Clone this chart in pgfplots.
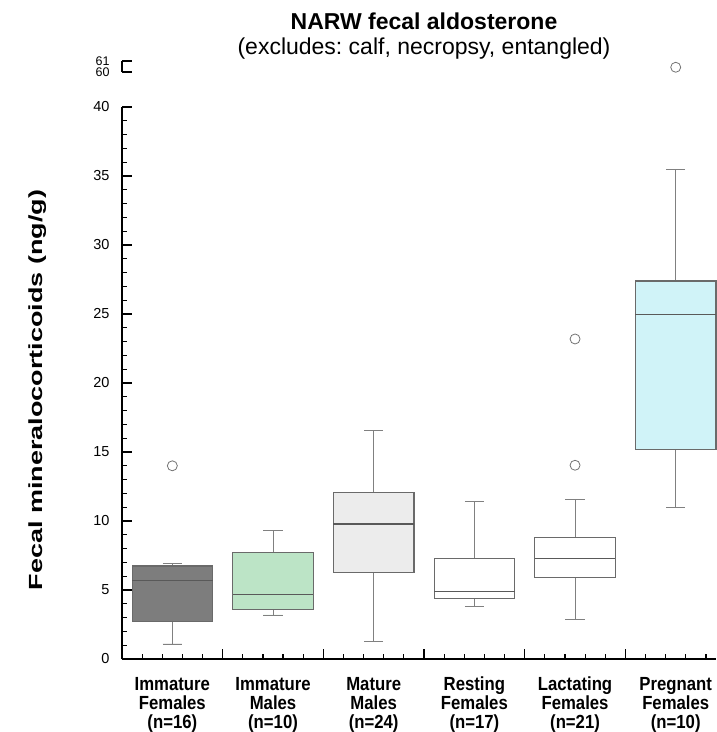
\documentclass[border=0pt]{standalone}
\usepackage{fontspec}
\setmainfont{Liberation Sans}
\usepackage{pgfplots}
\pgfplotsset{compat=1.18}
\usepgfplotslibrary{statistics}
\definecolor{boxline}{HTML}{6A6A6A}
\definecolor{whisk}{HTML}{808080}
\definecolor{cIF}{HTML}{7D7D7D}
\definecolor{cIM}{HTML}{BCE4C6}
\definecolor{cMM}{HTML}{ECECEC}
\definecolor{cPF}{HTML}{D0F3F8}
\pgfplotsset{
  mybox/.style={
    boxplot/draw direction=y,
    boxplot/box extend=0.8,
    boxplot/whisker extend=0.19,
    boxplot/every box/.style={draw=boxline, line width=1.1pt},
    boxplot/every whisker/.style={draw=whisk, line width=0.9pt},
    boxplot/every median/.style={draw=black!65, line width=1.1pt},
    mark=o, mark size=5pt, mark options={draw=black!55, line width=0.8pt, fill=none},
  }
}
\newcommand{\xl}[3]{\scalebox{0.88}[1]{\fontsize{19}{19}\selectfont\bfseries\begin{tabular}[t]{@{}c@{}}#1\\#2\\#3\end{tabular}}}
\frenchspacing
\begin{document}
\begin{tikzpicture}[x=1pt,y=1pt]
\path[use as bounding box] (0,0) rectangle (716,732);
\begin{axis}[
  at={(122pt,73pt)}, anchor=south west,
  scale only axis, width=594pt, height=552pt,
  xmin=-0.5, xmax=5.4, ymin=0, ymax=40,
  axis x line=bottom, axis y line=left,
  x axis line style={-, line width=1.8pt, black},
  y axis line style={-, line width=1.4pt, black},
  tick align=inside,
  xtick={-0.5,0.5,1.5,2.5,3.5,4.5}, xticklabels={},
  minor xtick={-0.3,-0.1,0.1,0.3,0.7,0.9,1.1,1.3,1.7,1.9,2.1,2.3,2.7,2.9,3.1,3.3,3.7,3.9,4.1,4.3,4.7,4.9,5.1,5.3},
  extra x ticks={0,1,2,3,4,5},
  extra x tick labels={{\xl{Immature}{Females}{(n=16)}},{\xl{Immature}{Males}{(n=10)}},{\xl{Mature}{Males}{(n=24)}},{\xl{Resting}{Females}{(n=17)}},{\xl{Lactating}{Females}{(n=21)}},{\xl{Pregnant}{Females}{(n=10)}}},
  extra x tick style={major tick length=0pt},
  xticklabel style={anchor=base, inner sep=0pt, yshift=-31pt},
  ytick={0,5,...,40}, minor ytick={1,2,3,4,6,7,8,9,11,12,13,14,16,17,18,19,21,22,23,24,26,27,28,29,31,32,33,34,36,37,38,39},
  major tick length=10pt, minor tick length=5pt,
  every tick/.style={black, line width=1.2pt},
  yticklabel style={font=\fontsize{14.5}{16}\selectfont, xshift=-9pt},
  /pgf/number format/assume math mode=true,
  clip=false,
]
\addplot[mybox, fill=cIF, boxplot prepared={lower whisker=1.09, lower quartile=2.70, median=5.72, upper quartile=6.74, upper whisker=6.93, draw position=0}]
  table[row sep=\\, y index=0]{14.0\\};
\addplot[mybox, fill=cIM, boxplot prepared={lower whisker=3.19, lower quartile=3.58, median=4.69, upper quartile=7.73, upper whisker=9.33, draw position=1}]
  coordinates {};
\addplot[mybox, fill=cMM, boxplot prepared={lower whisker=1.30, lower quartile=6.26, median=9.78, upper quartile=12.08, upper whisker=16.54, draw position=2}]
  coordinates {};
\addplot[mybox, fill=white, boxplot prepared={lower whisker=3.82, lower quartile=4.40, median=4.86, upper quartile=7.27, upper whisker=11.40, draw position=3}]
  coordinates {};
\addplot[mybox, fill=white, boxplot prepared={lower whisker=2.83, lower quartile=5.92, median=7.27, upper quartile=8.79, upper whisker=11.57, draw position=4}]
  table[row sep=\\, y index=0]{14.04\\ 23.19\\};
\addplot[mybox, fill=cPF, boxplot prepared={lower whisker=11.01, lower quartile=15.19, median=24.98, upper quartile=27.39, upper whisker=35.49, draw position=5}]
  coordinates {};
\end{axis}
\begin{axis}[
  at={(122pt,660pt)}, anchor=south west,
  scale only axis, width=594pt, height=11pt,
  xmin=-0.5, xmax=5.4, ymin=60, ymax=61,
  axis x line=none, axis y line=left,
  y axis line style={-, line width=1.4pt, black},
  tick align=inside, xtick=\empty,
  ytick={60,61}, major tick length=10pt,
  every tick/.style={black, line width=1.2pt},
  yticklabel style={font=\fontsize{12.5}{14}\selectfont, xshift=-9pt},
  /pgf/number format/assume math mode=true,
  clip=false,
]
\addplot[only marks, mark=o, mark size=5pt, mark options={draw=black!55, line width=0.8pt}] coordinates {(5,60.43)};
\end{axis}
\node[anchor=base, font=\bfseries\fontsize{23}{27}\selectfont] at (424,702) {NARW fecal aldosterone};
\node[anchor=base, font=\fontsize{23}{27}\selectfont] at (424,677) {(excludes: calf, necropsy, entangled)};
\node[rotate=90, font=\bfseries\fontsize{19}{22}\selectfont] at (38,342) {\scalebox{1.42}[1]{Fecal mineralocorticoids (ng/g)}};
\end{tikzpicture}
\end{document}
